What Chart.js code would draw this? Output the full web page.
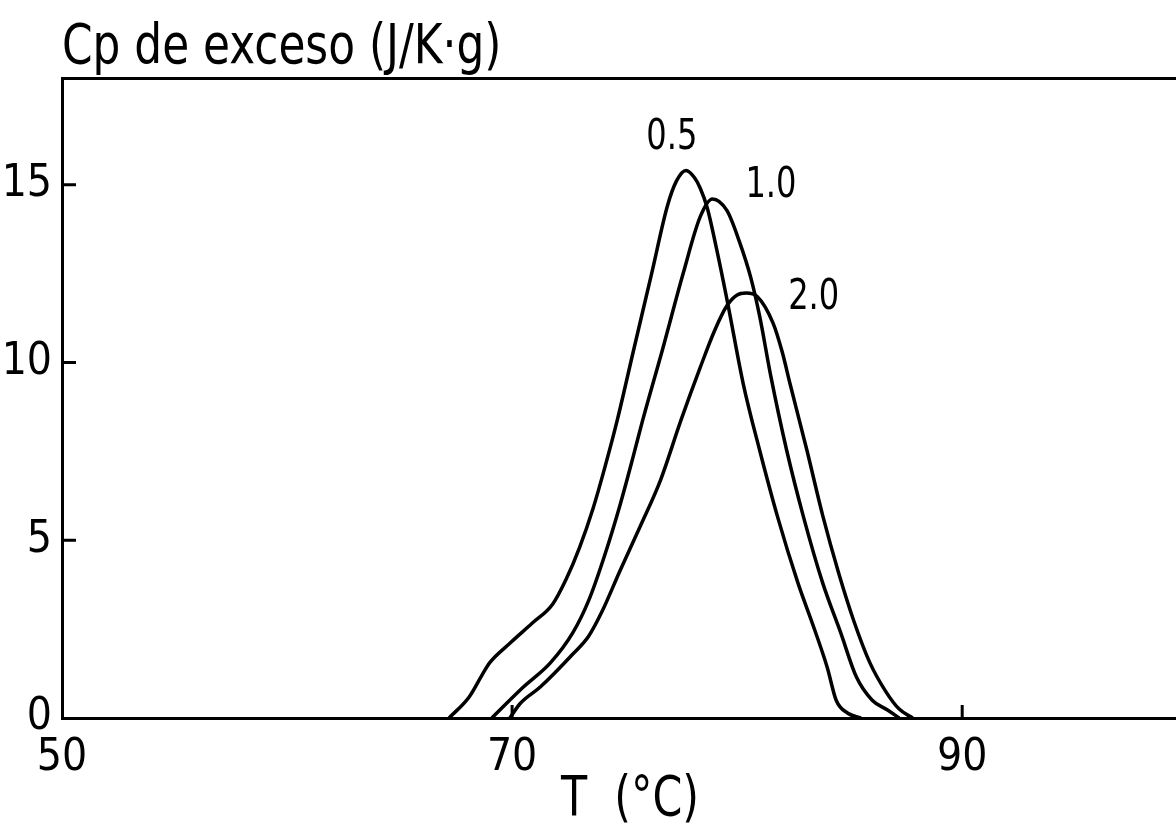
<!DOCTYPE html>
<html>
<head>
<meta charset="utf-8">
<script src="https://cdn.jsdelivr.net/npm/chart.js@4/dist/chart.umd.min.js"></script>
<style>
  html, body { margin: 0; padding: 0; background: #fff; }
</style>
</head>
<body>
<canvas id="dscChart" width="1176" height="829"></canvas>
<script>
// temperatures (°C) and excess Cp (J/K·g)
const t05  = [67.2, 68.1, 68.7, 69.0, 69.9, 70.9, 71.8, 72.4, 73.0, 73.6, 74.1, 74.67, 75.4, 76.2, 76.9, 77.3, 77.73, 78.1, 78.36, 78.67, 79.1, 79.6, 80.27, 81.0, 81.8, 82.7, 83.4, 84.0, 84.4, 84.9, 85.5];
const cp05 = [0, 0.6, 1.25, 1.55, 2.1, 2.67, 3.2, 3.9, 4.8, 5.9, 7.0, 8.37, 10.35, 12.5, 14.4, 15.1, 15.4, 15.2, 14.9, 14.35, 13.15, 11.6, 9.4, 7.53, 5.65, 3.8, 2.56, 1.43, 0.5, 0.14, 0];

const t10  = [69.1, 70.5, 71.7, 72.7, 73.4, 74.1, 74.8, 75.4, 75.8, 76.7, 77.6, 78.36, 78.9, 79.55, 80.1, 80.6, 81.0, 81.5, 82.2, 82.95, 83.8, 84.6, 85.3, 86.0, 86.7, 87.2];
const cp10 = [0, 0.87, 1.55, 2.4, 3.3, 4.55, 6.0, 7.4, 8.37, 10.4, 12.5, 14.1, 14.6, 14.27, 13.4, 12.4, 11.3, 9.6, 7.53, 5.65, 3.8, 2.4, 1.15, 0.5, 0.22, 0];

const t20  = [69.9, 70.35, 71.25, 72.7, 73.4, 74.0, 74.8, 75.7, 76.6, 77.5, 78.36, 79.0, 79.55, 80.0, 80.4, 80.9, 81.6, 82.0, 82.35, 83.1, 83.8, 84.5, 85.2, 85.9, 86.6, 87.2, 87.8];
const cp20 = [0, 0.4, 0.87, 1.8, 2.3, 3.0, 4.15, 5.4, 6.7, 8.37, 9.86, 10.9, 11.6, 11.9, 11.95, 11.85, 11.1, 10.3, 9.4, 7.53, 5.7, 4.1, 2.7, 1.55, 0.75, 0.25, 0];

// curve labels and where they sit (data units)
const curveNames = ["0.5", "1.0", "2.0"];
const nameT  = [77.1, 81.5, 83.4];
const nameCp = [16.3, 14.95, 11.8];

const xTicks = [50, 70, 90];
const yTicks = [0, 5, 10, 15];

const FONT = "'DejaVu Sans Condensed', 'DejaVu Sans', sans-serif";

function pts(xs, ys) {
    return xs.map((x, i) => ({ x: x, y: ys[i] }));
}

function curve(xs, ys) {
    return {
        data: pts(xs, ys),
        borderColor: "#000",
        borderWidth: 3.5,
        pointRadius: 0,
        fill: false,
        cubicInterpolationMode: "monotone"
    };
}

// draw text squeezed sideways, the plotter lettering is narrow
function narrowText(ctx, s, x, y, sx) {
    ctx.save();
    ctx.translate(x, y);
    ctx.scale(sx, 1);
    ctx.fillText(s, 0, 0);
    ctx.restore();
}

// small tick marks pointing into the plot, plus the text on top
const decor = {
    id: "decor",
    afterDraw(chart) {
        const ctx = chart.ctx;
        const area = chart.chartArea;
        const xs = chart.scales.x, ys = chart.scales.y;
        ctx.save();
        ctx.strokeStyle = "#000";
        ctx.lineWidth = 3;
        ctx.beginPath();
        yTicks.slice(1).forEach(v => {
            const py = ys.getPixelForValue(v);
            ctx.moveTo(area.left, py);
            ctx.lineTo(area.left + 14, py);
        });
        xTicks.slice(1).forEach(v => {
            const px = xs.getPixelForValue(v);
            ctx.moveTo(px, area.bottom);
            ctx.lineTo(px, area.bottom - 13);
        });
        ctx.stroke();

        ctx.fillStyle = "#000";
        ctx.textBaseline = "alphabetic";
        ctx.textAlign = "left";
        ctx.font = "56px " + FONT;
        narrowText(ctx, "Cp de exceso (J/K·g)", area.left, 63, 0.87);

        ctx.textAlign = "center";
        narrowText(ctx, "T  (°C)", 630, 815, 0.85);

        ctx.font = "42px " + FONT;
        ctx.textBaseline = "middle";
        curveNames.forEach((s, i) => {
            narrowText(ctx, s, xs.getPixelForValue(nameT[i]), ys.getPixelForValue(nameCp[i]), 0.85);
        });
        ctx.restore();
    }
};

new Chart(document.getElementById("dscChart"), {
    type: "line",
    data: {
        datasets: [curve(t05, cp05), curve(t10, cp10), curve(t20, cp20)]
    },
    options: {
        responsive: false,
        animation: false,
        layout: { padding: { top: 78, left: 0, right: 0, bottom: 0 } },
        plugins: {
            legend: { display: false },
            title: { display: false },
            tooltip: { enabled: false }
        },
        scales: {
            x: {
                type: "linear",
                min: 50,
                max: 99.5,
                afterBuildTicks: s => { s.ticks = xTicks.map(v => ({ value: v })); },
                afterFit: s => { s.height = 111; },
                grid: { display: false, drawTicks: false },
                border: { display: true, color: "#000", width: 3 },
                ticks: {
                    color: "#000",
                    padding: 14,
                    maxRotation: 0,
                    font: { family: FONT, size: 44 }
                }
            },
            xTop: {
                type: "linear",
                position: "top",
                min: 50,
                max: 99.5,
                afterFit: s => { s.height = 0; },
                grid: { display: false, drawTicks: false },
                border: { display: true, color: "#000", width: 3 },
                ticks: { display: false }
            },
            y: {
                min: 0,
                max: 18,
                afterBuildTicks: s => { s.ticks = yTicks.map(v => ({ value: v })); },
                afterFit: s => { s.width = 62; },
                grid: { display: false, drawTicks: false },
                border: { display: true, color: "#000", width: 3 },
                ticks: {
                    color: "#000",
                    padding: 10,
                    font: { family: FONT, size: 44 }
                }
            }
        }
    },
    plugins: [decor]
});
</script>
</body>
</html>
